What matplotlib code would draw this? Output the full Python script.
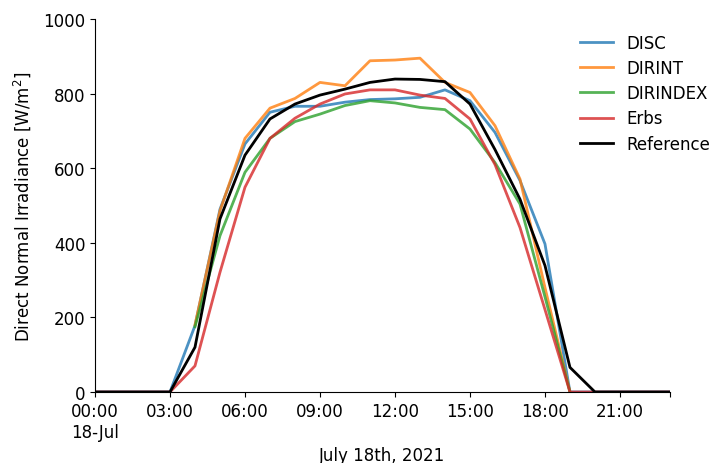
import numpy as np
import matplotlib
matplotlib.use("Agg")
import matplotlib.pyplot as plt

plt.rcParams['font.size'] = 12

# hourly values, 18 July 2021 (hour 0..23)
hours = list(range(24))
nan = np.nan

disc = [0, 0, 0, 0, 178, 490, 665, 750, 766, 766, 777, 784, 786, 790,
        810, 781, 696, 567, 397, 0, 0, 0, 0, 0]
dirint = [nan, nan, nan, nan, 180, 486, 680, 761, 787, 830, 821, 888, 890, 895,
          830, 803, 714, 571, 280, 0, nan, nan, nan, nan]
dirindex = [nan, nan, nan, nan, 175, 419, 589, 680, 725, 745, 768, 781, 775, 763,
            757, 705, 615, 504, 255, 0, nan, nan, nan, nan]
erbs = [0, 0, 0, 0, 70, 321, 549, 680, 734, 772, 799, 810, 810, 796,
        787, 732, 610, 441, 221, 0, 0, 0, 0, 0]
reference = [0, 0, 0, 0, 120, 464, 635, 732, 772, 796, 812, 830, 839, 838,
             832, 772, 650, 517, 339, 66, 0, 0, 0, 0]

tick_hours = [0, 3, 6, 9, 12, 15, 18, 21, 23]
tick_labels = ['00:00\n18-Jul', '03:00', '06:00', '09:00', '12:00',
               '15:00', '18:00', '21:00', '']

fig = plt.figure(figsize=(7.11, 4.64), dpi=100)
ax = fig.add_axes([0.1336, 0.153, 0.8087, 0.8039])

ax.plot(hours, disc, color='tab:blue', lw=2, alpha=0.8, label='DISC')
ax.plot(hours, dirint, color='tab:orange', lw=2, alpha=0.8, label='DIRINT')
ax.plot(hours, dirindex, color='tab:green', lw=2, alpha=0.8, label='DIRINDEX')
ax.plot(hours, erbs, color='tab:red', lw=2, alpha=0.8, label='Erbs')
ax.plot(hours, reference, color='black', lw=2, label='Reference')

ax.set_xlim(0, 23)
ax.set_ylim(0, 1000)
ax.set_xticks(tick_hours)
ax.set_xticklabels(tick_labels)
ax.set_yticks([0, 200, 400, 600, 800, 1000])

ax.spines['top'].set_visible(False)
ax.spines['right'].set_visible(False)

ax.set_xlabel('July 18th, 2021')
ax.set_ylabel('Direct Normal Irradiance [W/m$^2$]', labelpad=7)

ax.legend(loc='upper left', bbox_to_anchor=(0.817, 1.0), frameon=False,
          labelspacing=0.43)

fig.savefig('out.png', dpi=100)
